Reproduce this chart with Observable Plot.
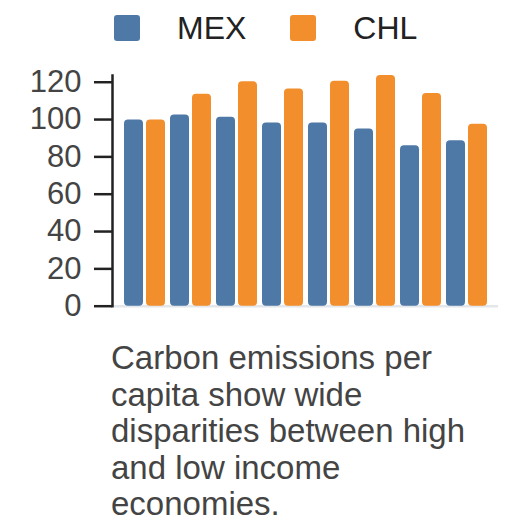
<!DOCTYPE html>
<html><head><meta charset="utf-8">
<script src="https://cdn.jsdelivr.net/npm/d3@7"></script>
<script src="https://cdn.jsdelivr.net/npm/@observablehq/plot@0.6"></script>
<style>
body{margin:0;background:#fff;font-family:"Liberation Sans",Arial,sans-serif;}
#legend{height:57px;display:flex;align-items:flex-start;padding-left:114px;box-sizing:border-box;}
.item{display:flex;align-items:center;margin-top:15px;}
.sw{width:26px;height:26px;border-radius:3px;}
.lab{font-size:32px;color:#222;margin-left:37px;line-height:26px;}
#caption{padding-left:111px;width:380px;font-size:33px;line-height:36.5px;color:#444;}
svg{display:block;}
</style></head>
<body>
<div id="legend"></div>
<div id="chart"></div>
<div id="caption"></div>
<script>
const groups = ["1","2","3","4","5","6","7","8"];
const countries = ["MEX","CHL"];
const colors = ["#4e79a7","#f28e2b"];
const mex = [99.8, 102.5, 101.2, 98.2, 98.2, 95.0, 85.9, 88.6];
const chl = [99.8, 113.6, 120.2, 116.4, 120.5, 123.6, 113.9, 97.5];
const yTicks = [0, 20, 40, 60, 80, 100, 120];
const captionText = "Carbon emissions per capita show wide disparities between high and low income economies.";

const rows = groups.flatMap((g, i) => [
  {group: g, country: "MEX", value: mex[i]},
  {group: g, country: "CHL", value: chl[i]}
]);
const ymax = d3.max(rows, d => d.value);

// legend
const legend = document.getElementById("legend");
countries.forEach((c, i) => {
  const item = document.createElement("div");
  item.className = "item";
  if (i > 0) item.style.marginLeft = "44px";
  const sw = document.createElement("div");
  sw.className = "sw";
  sw.style.background = colors[i];
  const lab = document.createElement("span");
  lab.className = "lab";
  lab.textContent = c;
  item.appendChild(sw);
  item.appendChild(lab);
  legend.appendChild(item);
});

const plot = Plot.plot({
  width: 528,
  height: 283,
  marginTop: 18,
  marginBottom: 34.3,
  marginLeft: 112,
  marginRight: 30,
  style: {fontFamily: '"Liberation Sans", Arial, sans-serif', background: "#fff"},
  x: {domain: groups, paddingInner: 0.118, paddingOuter: 0.215, axis: null},
  y: {domain: [0, ymax], nice: false, axis: null},
  color: {domain: countries, range: colors},
  marks: [
    Plot.ruleY([0], {stroke: "#e3e6ea", strokeWidth: 2.5}),
    Plot.barY(rows.filter(d => d.country === "MEX"), {x: "group", y: "value", fill: "country", insetRight: 22, rx: 4}),
    Plot.barY(rows.filter(d => d.country === "CHL"), {x: "group", y: "value", fill: "country", insetLeft: 22, rx: 4}),
    Plot.frame({anchor: "left", stroke: "#222", strokeWidth: 2.5}),
    Plot.axisY({ticks: yTicks, tickSize: 18, tickPadding: 13, fontSize: 31, stroke: "#222", strokeWidth: 2.5, fill: "#444", tickFormat: d3.format("d"), label: null})
  ]
});
document.getElementById("chart").appendChild(plot);
document.getElementById("caption").textContent = captionText;
</script>
</body></html>
